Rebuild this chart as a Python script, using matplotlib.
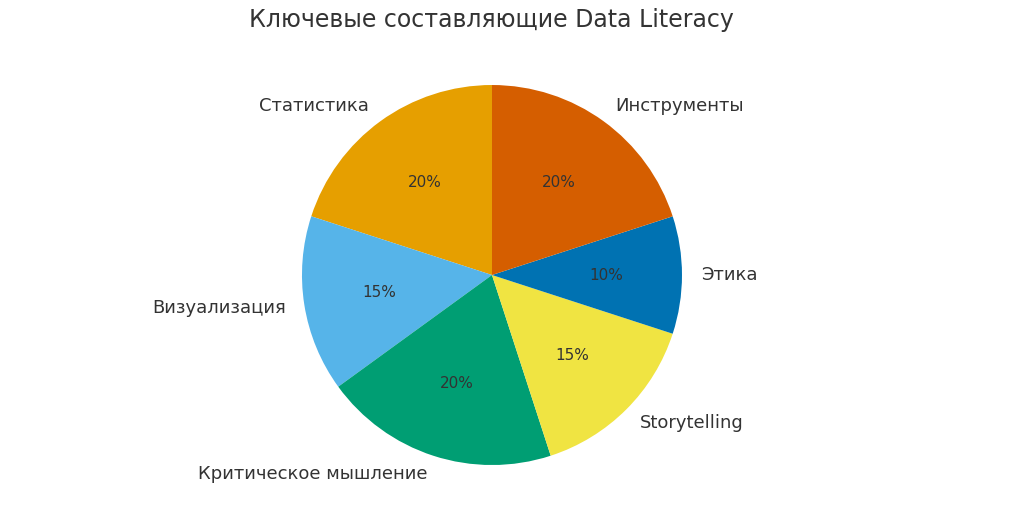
import matplotlib.pyplot as plt

labels = ['Статистика', 'Визуализация', 'Критическое мышление', 'Storytelling', 'Этика', 'Инструменты']
shares = [20, 15, 20, 15, 10, 20]
colors = ['#E69F00', '#56B4E9', '#009E73', '#F0E442', '#0072B2', '#D55E00']

fig = plt.figure(figsize=(10.24, 5.27), dpi=100)
ax = fig.add_axes([0.2949, 0.1176, 0.3711, 0.7211])
ax.pie(shares, labels=labels, colors=colors, autopct='%1.0f%%', startangle=90,
       labeldistance=1.1, pctdistance=0.6,
       textprops={'fontsize': 13, 'color': '#333333'})
for t in ax.texts:
    if t.get_text().endswith('%'):
        t.set_fontsize(11)
ax.set_xlim(-1, 1)
ax.set_ylim(-1, 1)
ax.set_aspect('equal')
ax.axis('off')
fig.text(0.48, 0.962, 'Ключевые составляющие Data Literacy', ha='center', va='center',
         fontsize=17, color='#333333')
fig.savefig('out.png', dpi=100)
